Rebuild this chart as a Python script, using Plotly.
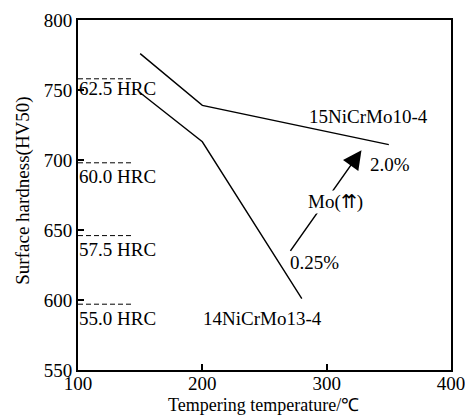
import plotly.graph_objects as go

# Data
temp_15 = [150, 200, 350]
hv_15 = [776, 739, 711]
temp_14 = [150, 200, 280]
hv_14 = [748, 713, 601]

hrc_labels = ["62.5 HRC", "60.0 HRC", "57.5 HRC", "55.0 HRC"]
hrc_hv = [758, 698, 646, 597]
hrc_label_hv = [751, 688, 636, 587]
hrc_dash_x = [100, 144]

mo_start = (270, 634)
mo_end = (328, 707)

x_ticks = [100, 200, 300, 400]
y_ticks = [550, 600, 650, 700, 750, 800]

FONT = "Liberation Serif, Times New Roman, serif"
FS = 19

fig = go.Figure()

for hv in hrc_hv:
    fig.add_trace(go.Scatter(x=hrc_dash_x, y=[hv, hv], mode="lines",
                             line=dict(color="black", width=1, dash="5px,3px"),
                             showlegend=False, hoverinfo="skip"))

fig.add_trace(go.Scatter(x=temp_15, y=hv_15, mode="lines",
                         line=dict(color="black", width=1.4), showlegend=False))
fig.add_trace(go.Scatter(x=temp_14, y=hv_14, mode="lines",
                         line=dict(color="black", width=1.4), showlegend=False))

ann = []
for lab, yv in zip(hrc_labels, hrc_label_hv):
    ann.append(dict(x=100, y=yv, xref="x", yref="y", text=lab, showarrow=False,
                    xanchor="left", yanchor="middle", xshift=-1,
                    font=dict(family=FONT, size=FS, color="black")))

# Mo arrow
ann.append(dict(x=mo_end[0], y=mo_end[1], ax=mo_start[0], ay=mo_start[1],
                xref="x", yref="y", axref="x", ayref="y", text="",
                showarrow=True, arrowhead=2, arrowsize=2.5, arrowwidth=1.5,
                arrowcolor="black"))
ann.append(dict(x=307.5, y=670, xref="x", yref="y", text="Mo(⇈)", showarrow=False,
                bgcolor="white", borderpad=0,
                font=dict(family=FONT, size=FS, color="black")))

ann.append(dict(x=334, y=731, xref="x", yref="y", text="15NiCrMo10-4", showarrow=False,
                font=dict(family=FONT, size=FS, color="black")))
ann.append(dict(x=333, y=697, xref="x", yref="y", text="2.0%", showarrow=False,
                xanchor="left", font=dict(family=FONT, size=FS, color="black")))
ann.append(dict(x=268.5, y=627, xref="x", yref="y", text="0.25%", showarrow=False,
                xanchor="left", font=dict(family=FONT, size=FS, color="black")))
ann.append(dict(x=248.5, y=587, xref="x", yref="y", text="14NiCrMo13-4", showarrow=False,
                font=dict(family=FONT, size=FS, color="black")))

# Axis titles
ann.append(dict(x=-0.146, y=0.511, xref="paper", yref="paper",
                text="Surface hardness(HV50)", textangle=-90, showarrow=False,
                xanchor="center", yanchor="middle",
                font=dict(family=FONT, size=FS, color="black")))
ann.append(dict(x=0.497, y=-0.068, xref="paper", yref="paper",
                text="Tempering temperature/℃", showarrow=False,
                xanchor="center", yanchor="top", borderpad=0,
                font=dict(family=FONT, size=18, color="black")))

fig.update_layout(
    width=465, height=415,
    margin=dict(l=78, r=14, t=20, b=45),
    paper_bgcolor="white", plot_bgcolor="white",
    annotations=ann,
    font=dict(family=FONT, size=FS, color="black"),
)
fig.update_xaxes(range=[100, 400], tickvals=x_ticks, ticks="inside", ticklen=6,
                 tickwidth=1.5, tickcolor="black", showgrid=False, zeroline=False,
                 showline=True, linecolor="black", linewidth=1.8, mirror=True,
                 automargin=False, ticklabeloverflow="allow", ticklabelstandoff=-5,
                 tickfont=dict(family=FONT, size=FS, color="black"))
fig.update_yaxes(range=[550, 800], tickvals=y_ticks, ticks="inside", ticklen=6,
                 tickwidth=1.5, tickcolor="black", showgrid=False, zeroline=False,
                 showline=True, linecolor="black", linewidth=1.8, mirror=True,
                 automargin=False, ticklabeloverflow="allow",
                 tickfont=dict(family=FONT, size=FS, color="black"))

fig.write_html("out.html", config={"displayModeBar": False},
               post_script="document.body.style.margin='0';document.body.style.overflow='hidden';")
